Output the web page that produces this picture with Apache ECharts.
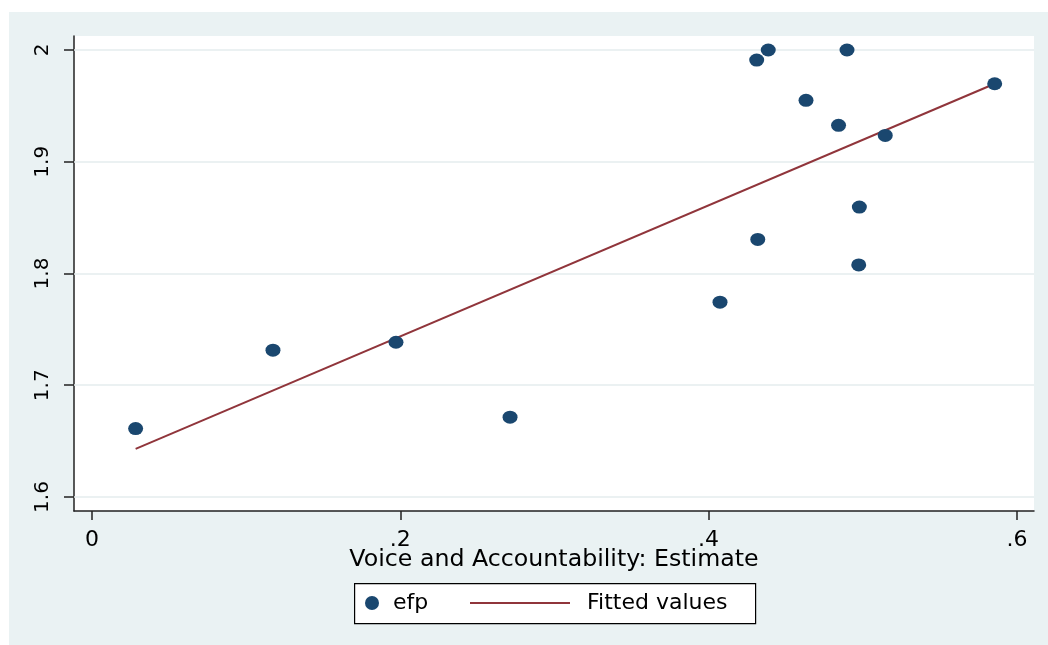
<!DOCTYPE html>
<html>
<head>
<meta charset="utf-8">
<script src="https://cdn.jsdelivr.net/npm/echarts@6/dist/echarts.min.js"></script>
<style>
html,body{margin:0;padding:0;background:#fff;}
#chart{width:1048px;height:645px;}
</style>
</head>
<body>
<div id="chart"></div>
<script>
// Data
const voiceX   = [0.0283, 0.1174, 0.1972, 0.2712, 0.4074, 0.4319, 0.4312, 0.4387, 0.4632, 0.4898, 0.4843, 0.4978, 0.4974, 0.5146, 0.5856];
const efpY     = [1.6612, 1.7314, 1.7385, 1.6714, 1.7743, 1.8305, 1.9910, 2.0000, 1.9550, 2.0000, 1.9326, 1.8594, 1.8077, 1.9236, 1.9698];
const fitX     = [0.0283, 0.5856];
const fitY     = [1.6430, 1.9698];
const xTicks   = [0, 0.2, 0.4, 0.6];
const yTicks   = [1.6, 1.7, 1.8, 1.9, 2.0];
const xTitle   = 'Voice and Accountability: Estimate';
const seriesNames = ['efp', 'Fitted values'];

const FONT = 'DejaVu Sans';
const fmtX = v => { if (Math.abs(v) < 1e-9) return '0'; return String(+v.toFixed(1)).replace(/^0\./, '.'); };
const fmtY = v => String(+v.toFixed(1));

const chart = echarts.init(document.getElementById('chart'));
chart.setOption({
  animation: false,
  backgroundColor: '#ffffff',
  graphic: [
    { type: 'rect', left: 9, top: 12, shape: { width: 1039, height: 633 }, style: { fill: '#eaf2f3' }, z: -10, silent: true },
    { type: 'rect', left: 354, top: 583, shape: { width: 401, height: 40 }, style: { fill: '#ffffff', stroke: '#000000', lineWidth: 1.2 }, z: 0, silent: true }
  ],
  grid: { left: 74, right: 14, top: 36, bottom: 134, show: true, backgroundColor: '#ffffff', borderWidth: 0 },
  xAxis: {
    type: 'value', min: -0.01168, max: 0.6111,
    axisLine: { show: true, onZero: false, lineStyle: { color: '#222', width: 1.5 } },
    axisTick: { show: true, length: 9, customValues: xTicks, lineStyle: { color: '#222', width: 1.5 } },
    axisLabel: { customValues: xTicks, formatter: fmtX, margin: 18, color: '#000', fontFamily: FONT, fontSize: 22 },
    splitLine: { show: false },
    name: xTitle, nameLocation: 'middle', nameGap: 37, nameMoveOverlap: false,
    nameTextStyle: { color: '#000', fontFamily: FONT, fontSize: 23.7 }
  },
  yAxis: {
    type: 'value', min: 1.58746, max: 2.01254,
    axisLine: { show: true, onZero: false, lineStyle: { color: '#222', width: 1.5 } },
    axisTick: { show: true, length: 10, customValues: yTicks, lineStyle: { color: '#222', width: 1.5 } },
    axisLabel: { customValues: yTicks, formatter: fmtY, rotate: 90, margin: 21, color: '#000', fontFamily: FONT, fontSize: 20 },
    splitLine: { show: false }
  },
  legend: [
    { data: [seriesNames[0]], left: 365, top: 591, padding: 0, icon: 'circle', itemWidth: 14, itemHeight: 14,
      textStyle: { color: '#000', fontFamily: FONT, fontSize: 22, lineHeight: 24, padding: [0, 0, 0, 9] }, selectedMode: false },
    { data: [{ name: seriesNames[1], icon: 'rect' }], left: 470, top: 591, padding: 0, itemWidth: 100, itemHeight: 2,
      itemStyle: { color: '#90353b' },
      textStyle: { color: '#000', fontFamily: FONT, fontSize: 22, lineHeight: 24, padding: [0, 0, 0, 12] }, selectedMode: false }
  ],
  series: [
    {
      name: 'grid', type: 'line', data: [], silent: true,
      markLine: { silent: true, symbol: 'none', z: 1, label: { show: false },
        lineStyle: { color: '#e4ecee', width: 1.5, type: 'solid' },
        data: yTicks.map(v => ({ yAxis: v })) },
      z: 1
    },
    {
      name: seriesNames[0], type: 'scatter', symbol: 'circle', symbolSize: [15, 13],
      itemStyle: { color: '#1a476f', opacity: 1 },
      data: voiceX.map((x, i) => [x, efpY[i]]), z: 3
    },
    {
      name: seriesNames[1], type: 'line', symbol: 'none', showSymbol: false,
      lineStyle: { color: '#90353b', width: 2 }, itemStyle: { color: '#90353b' },
      data: fitX.map((x, i) => [x, fitY[i]]), z: 2
    }
  ]
});
</script>
</body>
</html>
